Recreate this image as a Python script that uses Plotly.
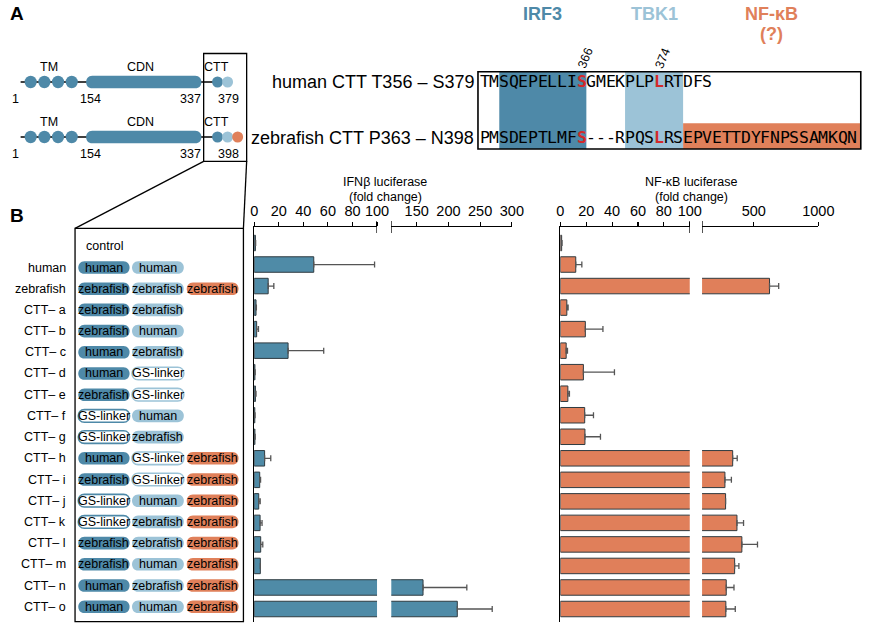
import plotly.graph_objects as go

W, H = 880, 628

# ---------------- data ----------------
row_labels = ["", "human", "zebrafish", "CTT– a", "CTT– b", "CTT– c", "CTT– d", "CTT– e",
              "CTT– f", "CTT– g", "CTT– h", "CTT– i", "CTT– j", "CTT– k", "CTT– l",
              "CTT– m", "CTT– n", "CTT– o"]
seg_irf3 = ["", "human", "zebrafish", "zebrafish", "zebrafish", "human", "human", "zebrafish",
            "GS-linker", "GS-linker", "human", "zebrafish", "GS-linker", "GS-linker",
            "zebrafish", "zebrafish", "human", "human"]
seg_tbk1 = ["", "human", "zebrafish", "zebrafish", "human", "zebrafish", "GS-linker", "GS-linker",
            "human", "zebrafish", "GS-linker", "GS-linker", "human", "zebrafish",
            "zebrafish", "human", "zebrafish", "human"]
seg_nfkb = ["", "", "zebrafish", "", "", "", "", "", "", "",
            "zebrafish", "zebrafish", "zebrafish", "zebrafish", "zebrafish", "zebrafish",
            "zebrafish", "zebrafish"]

ifnb_mean = [1.0, 48.5, 11.4, 1.5, 2.0, 27.6, 0.6, 1.0, 0.5, 0.6, 8.5, 4.5, 3.7, 4.8, 5.3, 5.0, 160, 214]
ifnb_err = [0.2, 49.5, 4.6, 0.3, 1.5, 29.0, 0.2, 0.5, 0.2, 0.2, 5.0, 0.7, 1.2, 1.6, 1.7, 0.0, 69, 55]
nfkb_mean = [1.0, 11.9, 622, 5.0, 19.3, 4.5, 17.8, 5.8, 18.8, 19.0, 337, 277, 282, 370, 408, 352, 287, 284]
nfkb_err = [0.3, 4.7, 71, 1.0, 13.6, 1.0, 24.0, 1.2, 6.8, 12.0, 35, 50, 0, 51, 121, 33, 60, 73]

ifnb_ticks_low = [0, 20, 40, 60, 80, 100]
ifnb_ticks_high = [150, 200, 250, 300]
nfkb_ticks_low = [0, 20, 40, 60, 80, 100]
nfkb_ticks_high = [500, 1000]

human_seq = "TMSQEPELLISGMEKPLPLRTDFS"
zebra_seq = "PMSDEPTLMFS---RPQSLRSEPVETTDYFNPSSAMKQN"
red_idx = [10, 18]

# ---------------- style ----------------
DARK = "#4e89a8"
LIGHT = "#9cc3d7"
ORANGE = "#e0805a"
RED = "#d42a2a"
FONT = "Liberation Sans, Arial, sans-serif"
MONO = "DejaVu Sans Mono, monospace"

def px(x):
    return x / W

def py(y):
    return 1 - y / H

shapes = []
annos = []

def text(x, y, s, size=12, color="black", xa="center", ya="middle", bold=False, font=FONT, angle=0):
    if bold:
        s = "<b>" + s + "</b>"
    annos.append(dict(x=px(x), y=py(y), xref="paper", yref="paper", text=s, showarrow=False,
                      xanchor=xa, yanchor=ya, textangle=angle,
                      font=dict(size=size, color=color, family=font), borderpad=0))

def line(x0, y0, x1, y1, color="black", width=1.3):
    shapes.append(dict(type="line", xref="paper", yref="paper", x0=px(x0), y0=py(y0),
                       x1=px(x1), y1=py(y1), line=dict(color=color, width=width)))

def rect(x0, y0, x1, y1, fill="rgba(0,0,0,0)", color="black", width=1.3, layer="above"):
    shapes.append(dict(type="rect", xref="paper", yref="paper", x0=px(x0), y0=py(y0),
                       x1=px(x1), y1=py(y1), fillcolor=fill, layer=layer,
                       line=dict(color=color, width=width)))

def circle(cx, cy, r, fill):
    shapes.append(dict(type="circle", xref="paper", yref="paper", x0=px(cx - r), y0=py(cy - r),
                       x1=px(cx + r), y1=py(cy + r), fillcolor=fill, line=dict(width=0)))

def pill(x0, x1, yc, h, fill, color, width=1.2):
    r = h / 2
    k = 4 / 3 * r
    t, b = yc - r, yc + r
    pts = [
        ("M", [(x0 + r, t)]),
        ("L", [(x1 - r, t)]),
        ("C", [(x1 - r + k, t), (x1 - r + k, b), (x1 - r, b)]),
        ("L", [(x0 + r, b)]),
        ("C", [(x0 + r - k, b), (x0 + r - k, t), (x0 + r, t)]),
    ]
    path = ""
    for cmd, ps in pts:
        path += cmd + " ".join("%.5f,%.5f" % (px(a), py(c)) for a, c in ps) + " "
    path += "Z"
    shapes.append(dict(type="path", xref="paper", yref="paper", path=path, fillcolor=fill,
                       line=dict(color=color, width=width)))

# ---------------- panel labels ----------------
text(5, 14, "A", size=19, bold=True, xa="left")
text(5, 216, "B", size=19, bold=True, xa="left")

# ---------------- panel A: domain diagrams ----------------
for (yc, end_label, ctt_cols) in [(82, "379", [DARK, LIGHT]), (137, "398", [DARK, LIGHT, ORANGE])]:
    line(17, yc, 216, yc, width=1.5)
    for cx in [27.3, 41.3, 55.3, 69.3]:
        circle(cx, yc, 6.2, DARK)
    pill(84, 202, yc, 12.6, DARK, DARK, width=0)
    cx = 218.5
    for c in ctt_cols:
        circle(cx, yc, 5.6, c)
        cx += 10.3
    text(46.5, yc - 15, "TM", size=12.5)
    text(139.5, yc - 15, "CDN", size=12.5)
    text(217, yc - 15, "CTT", size=12.5)
    text(12, yc + 16.5, "1", size=12.5)
    text(89, yc + 16.5, "154", size=12.5)
    text(190.5, yc + 16.5, "337", size=12.5)
    text(230, yc + 16.5, end_label, size=12.5)

rect(204.3, 53.5, 248.3, 161.3, width=1.3)
line(204.3, 161.3, 72.7, 228.3)
line(248.3, 161.3, 245, 228.3)

# ---------------- panel A: alignment ----------------
X0, CW = 487.0, 9.9
BX0, BX1, BY0, BY1 = 485, 876.7, 71.7, 149
rect(X0 + 2 * CW, BY0, X0 + 11 * CW, BY1, fill=DARK, color=DARK, width=0, layer="below")
rect(X0 + 15 * CW, BY0, X0 + 21 * CW, BY1, fill=LIGHT, color=LIGHT, width=0, layer="below")
rect(X0 + 21 * CW, 123.3, BX1, BY1, fill=ORANGE, color=ORANGE, width=0, layer="below")
rect(BX0, BY0, BX1, BY1, width=1.6)

for seq, yc in [(human_seq, 82), (zebra_seq, 137.5)]:
    for k, ch in enumerate(seq):
        red = k in red_idx
        text(X0 + (k + 0.5) * CW, yc, ch, size=16.5, font=MONO,
             color=RED if red else "black", bold=red)

text(482, 82, "human CTT T356 – S379", size=18, xa="right")
text(482, 137.5, "zebrafish CTT P363 – N398", size=18, xa="right")
text(X0 + 10.5 * CW + 4, 58, "366", size=12.5, angle=-68)
text(X0 + 18.5 * CW + 4, 58, "374", size=12.5, angle=-68)

text((X0 + 2 * CW + X0 + 11 * CW) / 2, 14, "IRF3", size=18, color=DARK, bold=True)
text((X0 + 15 * CW + X0 + 21 * CW) / 2, 14, "TBK1", size=18, color=LIGHT, bold=True)
text(785, 14, "NF-κB", size=18, color=ORANGE, bold=True)
text(785, 34, "(?)", size=18, color=ORANGE, bold=True)

# ---------------- panel B: construct table ----------------
rect(72.7, 228.3, 245, 621.7, width=1.3)
T0, TD = 246.3, 21.2
PH = 12.6
cols = [(76, 128.5, seg_irf3, DARK), (131, 184, seg_tbk1, LIGHT), (187, 240, seg_nfkb, ORANGE)]
for i, lab in enumerate(row_labels):
    yc = T0 + i * TD
    if i == 0:
        text(83, yc, "control", size=12.5, xa="left")
        continue
    text(64.5, yc, lab, size=12.5, xa="right")
    for (x0, x1, seg, c) in cols:
        s = seg[i]
        if not s:
            continue
        if s == "GS-linker":
            pill(x0, x1, yc, PH, "white", c, width=1.6)
        else:
            pill(x0, x1, yc, PH, c, c, width=0)
        text((x0 + x1) / 2, yc, s, size=12.5)

# ---------------- panel B: bar charts ----------------
n = len(row_labels)
ypos = list(range(n))
R0, RD = 243.0, 21.53
YTOP, YBOT = 227.0, 622.0
yrange = [(YBOT - R0) / RD, (YTOP - R0) / RD]
ydom = [py(YBOT), py(YTOP)]

fig = go.Figure()

def bars(xa, ya, vals, errs, color):
    fig.add_trace(go.Bar(
        x=vals, y=ypos, orientation="h", xaxis=xa, yaxis=ya, width=0.72,
        marker=dict(color=color, line=dict(color="#2f3b40", width=1)),
        error_x=dict(type="data", array=errs, arrayminus=[0] * len(errs), symmetric=False,
                     color="#555555", thickness=1.3, width=3),
        showlegend=False, hoverinfo="skip"))

bars("x", "y", ifnb_mean, ifnb_err, "#4f8ba7")
bars("x2", "y", ifnb_mean, ifnb_err, "#4f8ba7")
bars("x3", "y2", nfkb_mean, nfkb_err, "#e07f5a")
bars("x4", "y2", nfkb_mean, nfkb_err, "#e07f5a")

def xax(dom, rng, ticks, anchor):
    return dict(domain=[px(dom[0]), px(dom[1])], range=rng, side="top", anchor=anchor,
                tickvals=ticks, ticktext=[str(t) for t in ticks], ticks="outside", ticklen=4,
                tickwidth=1.2, tickcolor="black", showline=True, linecolor="black",
                linewidth=1.3, showgrid=False, zeroline=False,
                tickfont=dict(size=14.5, color="black", family=FONT))

def yax(anchor):
    return dict(domain=ydom, range=yrange, anchor=anchor, showline=True, linecolor="black",
                linewidth=1.5, showticklabels=False, ticks="", showgrid=False, zeroline=False)

IFN_LO = (256, 381.7)
IFN_HI = (396.3, 519.7)
NF_LO = (569.3, 701.7)
NF_HI = (714.3, 833.3)

fig.update_layout(
    xaxis=xax(IFN_LO, [0, 100], ifnb_ticks_low, "y"),
    xaxis2=xax(IFN_HI, [110, 300], ifnb_ticks_high, "y"),
    xaxis3=xax(NF_LO, [0, 100], nfkb_ticks_low, "y2"),
    xaxis4=xax(NF_HI, [100, 1000], nfkb_ticks_high, "y2"),
    yaxis=yax("x"),
    yaxis2=yax("x3"),
)

# axis break caps
for xr, xv in [("x", 100), ("x2", 110), ("x3", 100), ("x4", 100)]:
    shapes.append(dict(type="line", xref=xr, yref="paper", x0=xv, x1=xv,
                       y0=py(YTOP + 6), y1=py(YTOP - 6), line=dict(color="black", width=1.3)))

text(390, 182, "IFNβ luciferase", size=12.5)
text(390, 196.5, "(fold change)", size=12.5)
text(703, 182, "NF-κB luciferase", size=12.5)
text(703, 196.5, "(fold change)", size=12.5)

fig.update_layout(
    width=W, height=H, autosize=False,
    margin=dict(l=0, r=0, t=0, b=0),
    paper_bgcolor="white", plot_bgcolor="white",
    shapes=shapes, annotations=annos,
    bargap=0, showlegend=False,
    font=dict(family=FONT, color="black"),
)

fig.write_html("out.html",
               config={"displayModeBar": False, "staticPlot": True},
               post_script="document.body.style.margin='0';document.body.style.overflow='hidden';")
